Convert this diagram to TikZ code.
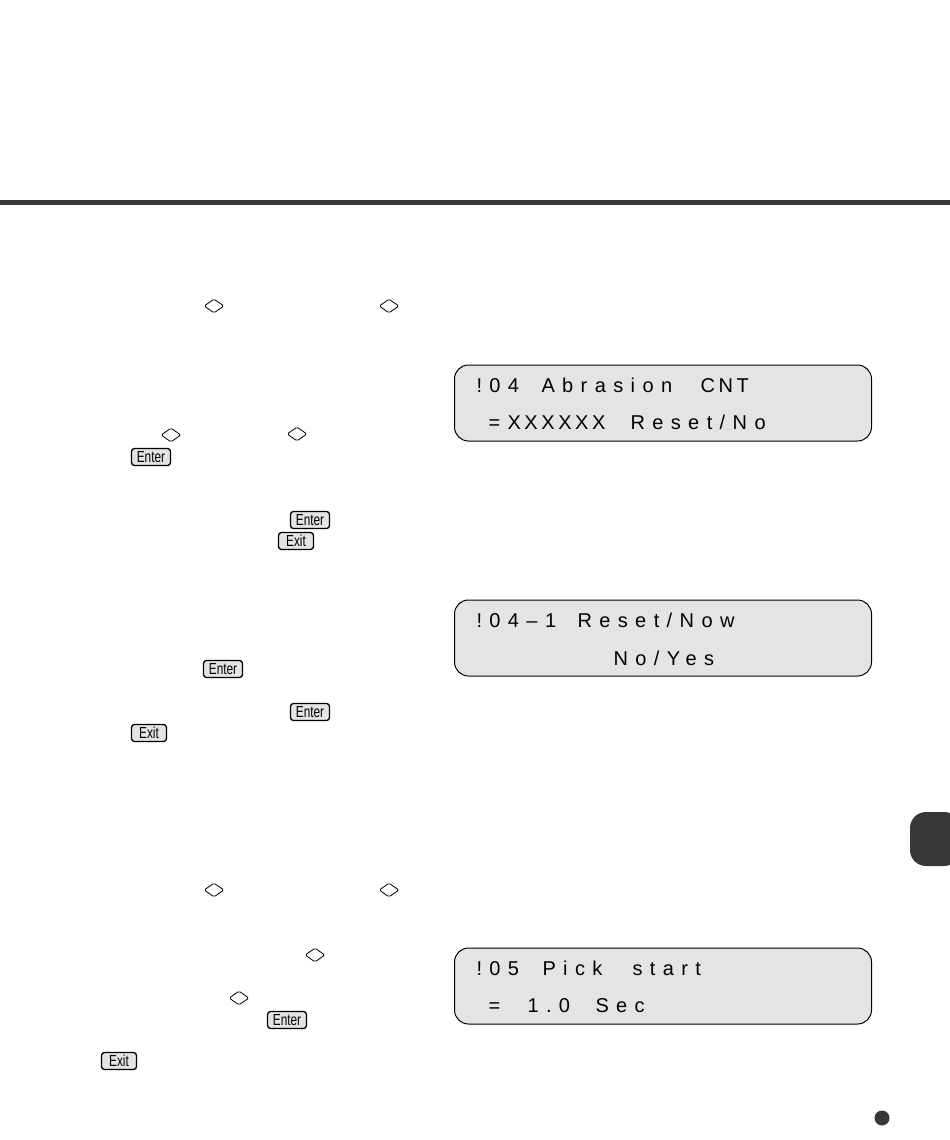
\documentclass[tikz,border=0pt]{standalone}
\usepackage{fontspec}
\usepackage{tikz}
\usetikzlibrary{shapes.geometric}
\newfontfamily\lcdfont[LetterSpace=37]{Liberation Sans}
\newfontfamily\lcdcaps[LetterSpace=18]{Liberation Sans}
\newfontfamily\keyfont[FakeStretch=0.74]{Liberation Sans}
\definecolor{panelgray}{HTML}{E4E4E4}
\definecolor{inkgray}{HTML}{383838}
\begin{document}
\begin{tikzpicture}[x = 1pt, y = -1pt, line width = 1pt,
								lcd/.style = {draw, fill = panelgray, rounded corners = 14pt, 
								minimum width = 417pt, minimum height = 76pt},
								lcdtext/.style = {anchor = base west, inner sep = 0pt, 
								font = \fontsize{20}{24}\lcdfont},
								lcdcap/.style = {lcdtext, font = \fontsize{20}{24}\lcdcaps},
								arrowkey/.style = {diamond, draw, line width = 0.8pt, rounded corners = 1.5pt, 
								inner sep = 0pt, minimum width = 20pt, minimum height = 14pt},
								enterkey/.style = {draw, line width = 1.3pt, fill = panelgray, rounded corners = 3pt, 
								inner sep = 0pt, minimum width = 39pt, minimum height = 17pt, 
								font = \fontsize{16}{16}\keyfont},
								exitkey/.style = {enterkey, minimum width = 35pt}]

				\useasboundingbox (0,0) rectangle (950,1140);
				\fill [inkgray] (0,200) rectangle (950,204.5);

				% first panel
				\node [lcd] (panel_1) at (663,403) {};
				\node [lcdtext] (code_1) at (476,392) {!04};
				\node [lcdtext] (word_1) at (541,392) {Abrasion};
				\node [lcdcap] (word_2) at (700,392) {CNT};
				\node [lcdtext] (equal_1) at (488,429) {=};
				\node [lcdcap] (value_1) at (507,429) {XXXXXX};
				\node [lcdtext] (word_3) at (630,429) {Reset/No};

				% second panel
				\node [lcd] (panel_2) at (663,638) {};
				\node [lcdtext] (code_2) at (476,627) {!04–1};
				\node [lcdtext] (word_4) at (577,627) {Reset/Now};
				\node [lcdtext] (word_5) at (613,665) {No/Yes};

				% third panel
				\node [lcd] (panel_3) at (663,986) {};
				\node [lcdtext] (code_3) at (476,975) {!05};
				\node [lcdtext] (word_6) at (542,975) {Pick};
				\node [lcdtext] (word_7) at (632,975) {start};
				\node [lcdtext] (equal_2) at (488,1012) {=};
				\node [lcdtext] (value_2) at (527,1012) {1.0};
				\node [lcdtext] (word_8) at (595,1012) {Sec};

				\node [arrowkey] (arrow_1) at (214,306) {};
				\node [arrowkey] (arrow_2) at (389,306) {};
				\node [arrowkey] (arrow_3) at (171,435) {};
				\node [arrowkey] (arrow_4) at (297,434) {};
				\node [arrowkey] (arrow_5) at (214,890) {};
				\node [arrowkey] (arrow_6) at (389,890) {};
				\node [arrowkey] (arrow_7) at (315,955) {};
				\node [arrowkey] (arrow_8) at (239,998) {};

				\node [enterkey] (enter_1) at (151,457) {Enter};
				\node [enterkey] (enter_2) at (310,520) {Enter};
				\node [enterkey] (enter_3) at (223,669) {Enter};
				\node [enterkey] (enter_4) at (310,712) {Enter};
				\node [enterkey] (enter_5) at (287,1020) {Enter};

				\node [exitkey] (exit_1) at (296,541) {Exit};
				\node [exitkey] (exit_2) at (149,733) {Exit};
				\node [exitkey] (exit_3) at (119,1061) {Exit};

				% chapter tab and page dot
				\fill [inkgray, rounded corners = 16pt] (960,812) -- (910,812) -- (910,866) -- (960,866) -- cycle;
				\node [circle, fill = inkgray, inner sep = 0pt, minimum size = 15pt] (page_dot) at (882,1118) {};
			\end{tikzpicture}
\end{document}
